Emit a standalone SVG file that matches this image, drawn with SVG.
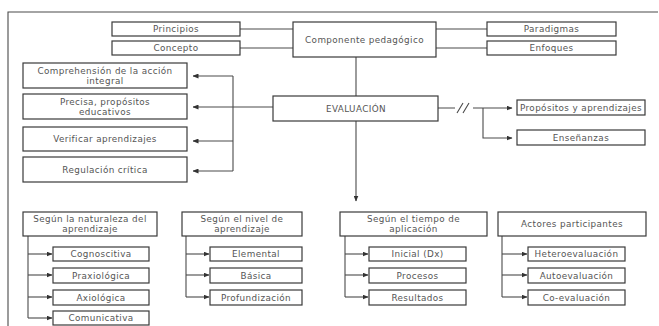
<svg xmlns="http://www.w3.org/2000/svg" width="659" height="326" viewBox="0 0 659 326">
<style>
.b{fill:#fff;stroke:#3a3a3a;stroke-width:1.2}
.t{font-family:"DejaVu Sans",sans-serif;font-size:8.8px;letter-spacing:0.4px;fill:#555;text-anchor:middle}
.l{fill:none;stroke:#4a4a4a;stroke-width:1.1}
</style>
<defs>
<marker id="ah" markerWidth="6" markerHeight="5" refX="5.5" refY="2.5" orient="auto" markerUnits="userSpaceOnUse">
<path d="M0,0 L6,2.5 L0,5 Z" fill="#333"/>
</marker>
</defs>
<rect width="659" height="326" fill="#fff"/>
<path class="l" d="M8,326 V12 H658"/>
<g id="connectors">
<path class="l" d="M240,29 H293 M240,48 H293"/>
<path class="l" d="M436,29 H487 M436,48 H487"/>
<path class="l" d="M356,57 V96"/>
<path class="l" d="M356,121 V201" marker-end="url(#ah)"/>
<path class="l" d="M273,107 H193" marker-end="url(#ah)"/>
<path class="l" d="M233,76 V171"/>
<path class="l" d="M233,76 H193" marker-end="url(#ah)"/>
<path class="l" d="M233,141 H193" marker-end="url(#ah)"/>
<path class="l" d="M233,171 H193" marker-end="url(#ah)"/>
<path class="l" d="M438,108 H455 M457,113 L463,103 M463,113 L469,103"/>
<path class="l" d="M473,108 H512" marker-end="url(#ah)"/>
<path class="l" d="M483,108 V138 H512" marker-end="url(#ah)"/>
<path class="l" d="M28,236 V318"/>
<path class="l" d="M28,254 H52" marker-end="url(#ah)"/>
<path class="l" d="M28,275 H52" marker-end="url(#ah)"/>
<path class="l" d="M28,297 H52" marker-end="url(#ah)"/>
<path class="l" d="M28,318 H52" marker-end="url(#ah)"/>
<path class="l" d="M186,236 V297"/>
<path class="l" d="M186,254 H209" marker-end="url(#ah)"/>
<path class="l" d="M186,275 H209" marker-end="url(#ah)"/>
<path class="l" d="M186,297 H209" marker-end="url(#ah)"/>
<path class="l" d="M345,236 V297"/>
<path class="l" d="M345,254 H368" marker-end="url(#ah)"/>
<path class="l" d="M345,275 H368" marker-end="url(#ah)"/>
<path class="l" d="M345,297 H368" marker-end="url(#ah)"/>
<path class="l" d="M502,236 V297"/>
<path class="l" d="M502,254 H527" marker-end="url(#ah)"/>
<path class="l" d="M502,275 H527" marker-end="url(#ah)"/>
<path class="l" d="M502,297 H527" marker-end="url(#ah)"/>
</g>
<g id="principios"><rect class="b" x="112" y="22" width="128" height="14"/><text class="t" x="176" y="32">Principios</text></g>
<g id="concepto"><rect class="b" x="112" y="41" width="128" height="14"/><text class="t" x="176" y="51">Concepto</text></g>
<g id="componente"><rect class="b" x="293" y="22" width="143" height="35"/><text class="t" x="364.5" y="42.5">Componente pedagógico</text></g>
<g id="paradigmas"><rect class="b" x="487" y="22" width="129" height="14"/><text class="t" x="551.5" y="32">Paradigmas</text></g>
<g id="enfoques"><rect class="b" x="487" y="41" width="129" height="14"/><text class="t" x="551.5" y="51">Enfoques</text></g>
<g id="evaluacion"><rect class="b" x="273" y="96" width="165" height="25"/><text class="t" x="356" y="111.5">EVALUACIÓN</text></g>
<g id="comprehension"><rect class="b" x="23" y="63" width="164" height="25"/><text class="t" x="105" y="74">Comprehensión de la acción</text><text class="t" x="105" y="84">integral</text></g>
<g id="precisa"><rect class="b" x="23" y="94" width="164" height="25"/><text class="t" x="105" y="105">Precisa, propósitos</text><text class="t" x="105" y="115">educativos</text></g>
<g id="verificar"><rect class="b" x="23" y="127" width="164" height="24"/><text class="t" x="105" y="142">Verificar aprendizajes</text></g>
<g id="regulacion"><rect class="b" x="23" y="157" width="164" height="25"/><text class="t" x="105" y="172.5">Regulación crítica</text></g>
<g id="propositos"><rect class="b" x="517" y="100" width="128" height="15"/><text class="t" x="581" y="110.5" letter-spacing="0">Propósitos y aprendizajes</text></g>
<g id="ensenanzas"><rect class="b" x="517" y="130" width="128" height="15"/><text class="t" x="581" y="140.5">Enseñanzas</text></g>
<g id="naturaleza"><rect class="b" x="23" y="212" width="134" height="24"/><text class="t" x="90" y="222">Según la naturaleza del</text><text class="t" x="90" y="231.5">aprendizaje</text></g>
<g id="cognoscitiva"><rect class="b" x="53" y="247" width="96" height="14"/><text class="t" x="101" y="257">Cognoscitiva</text></g>
<g id="praxiologica"><rect class="b" x="53" y="268" width="96" height="15"/><text class="t" x="101" y="278.5">Praxiológica</text></g>
<g id="axiologica"><rect class="b" x="53" y="290" width="96" height="15"/><text class="t" x="101" y="300.5">Axiológica</text></g>
<g id="comunicativa"><rect class="b" x="53" y="311" width="96" height="14"/><text class="t" x="101" y="321">Comunicativa</text></g>
<g id="nivel"><rect class="b" x="182" y="212" width="120" height="24"/><text class="t" x="242" y="222">Según el nivel de</text><text class="t" x="242" y="231.5">aprendizaje</text></g>
<g id="elemental"><rect class="b" x="210" y="247" width="92" height="14"/><text class="t" x="256" y="257">Elemental</text></g>
<g id="basica"><rect class="b" x="210" y="268" width="92" height="15"/><text class="t" x="256" y="278.5">Básica</text></g>
<g id="profundizacion"><rect class="b" x="210" y="290" width="92" height="15"/><text class="t" x="256" y="300.5">Profundización</text></g>
<g id="tiempo"><rect class="b" x="340" y="212" width="147" height="24"/><text class="t" x="413.5" y="222">Según el tiempo de</text><text class="t" x="413.5" y="231.5">aplicación</text></g>
<g id="inicial"><rect class="b" x="369" y="247" width="97" height="14"/><text class="t" x="417.5" y="257">Inicial (Dx)</text></g>
<g id="procesos"><rect class="b" x="369" y="268" width="97" height="15"/><text class="t" x="417.5" y="278.5">Procesos</text></g>
<g id="resultados"><rect class="b" x="369" y="290" width="97" height="15"/><text class="t" x="417.5" y="300.5">Resultados</text></g>
<g id="actores"><rect class="b" x="498" y="212" width="148" height="24"/><text class="t" x="572" y="227">Actores participantes</text></g>
<g id="hetero"><rect class="b" x="528" y="247" width="97" height="14"/><text class="t" x="576.5" y="257" letter-spacing="0.2">Heteroevaluación</text></g>
<g id="auto"><rect class="b" x="528" y="268" width="97" height="15"/><text class="t" x="576.5" y="278.5">Autoevaluación</text></g>
<g id="coeval"><rect class="b" x="528" y="290" width="97" height="15"/><text class="t" x="576.5" y="300.5">Co-evaluación</text></g>
</svg>
